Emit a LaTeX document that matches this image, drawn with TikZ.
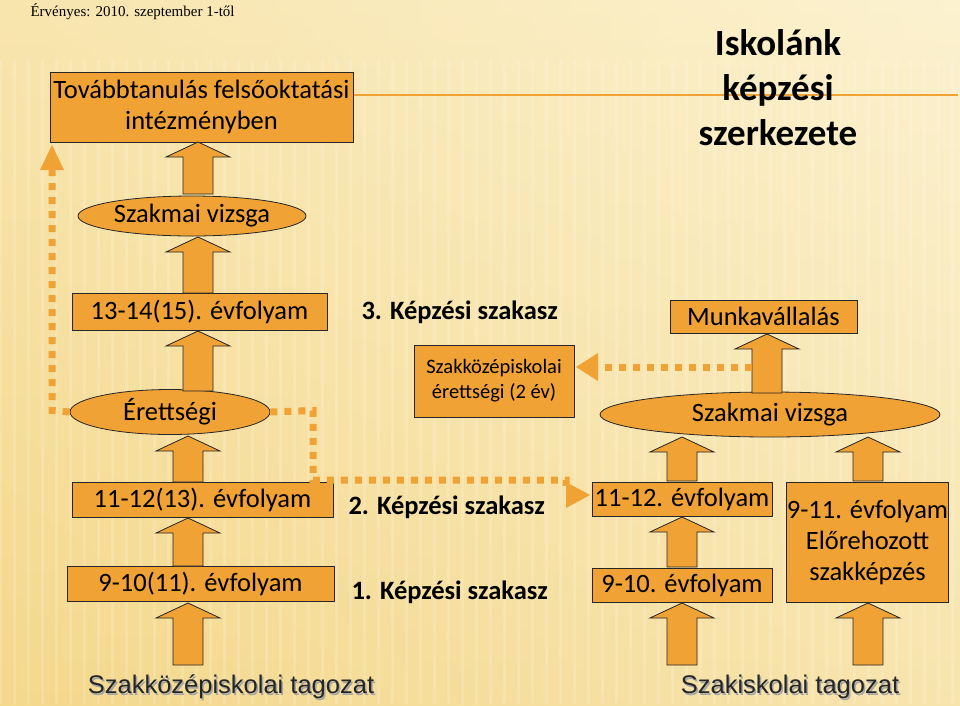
\documentclass[tikz,border=0pt]{standalone}
\usepackage{fontspec}
\setmainfont{Carlito}
\newfontfamily\arialf{Liberation Sans}
\newfontfamily\timesf{Liberation Serif}
\usetikzlibrary{shapes.geometric}
\definecolor{org}{RGB}{240,162,52}
\definecolor{bgA}{RGB}{244,216,140}
\definecolor{bgB}{RGB}{252,242,208}
\tikzset{
  obox/.style={draw=black!85,line width=0.8pt,fill=org,inner sep=0pt,align=center,font=\fontsize{26.5}{31}\selectfont},
  oell/.style={ellipse,draw=black!85,line width=0.8pt,fill=org,inner sep=0pt,font=\fontsize{26.5}{31}\selectfont},
  lbl/.style={font=\bfseries\fontsize{26.5}{31}\selectfont},
  tag/.style={font=\arialf\fontsize{25.5}{30}\selectfont},
  dots/.style={draw=org,line width=7pt,dash pattern=on 7pt off 7pt},
  blk/.style={draw=black!85,line width=0.8pt,fill=org}
}
\newcommand\uparr[3]{\draw[blk] (#1-15,#2)--(#1-15,#3+15)--(#1-32,#3+15)--(#1,#3)--(#1+32,#3+15)--(#1+15,#3+15)--(#1+15,#2)--cycle;}
\begin{document}
\begin{tikzpicture}[x=1pt,y=-1pt]
\useasboundingbox (0,0) rectangle (960,705);
\shade[left color=bgA,right color=bgB] (0,0) rectangle (960,705);
\shade[top color=bgB,bottom color=bgA,opacity=0.5] (0,0) rectangle (960,705);
\foreach \i in {0,14,...,960} \draw[white,opacity=0.15,line width=3pt] (\i,60)--(\i,705);
\node[font=\timesf\fontsize{15}{17}\selectfont,anchor=west] (valid) at (27,12) {Érvényes: 2010. szeptember 1-től};
% header line
\draw[org,line width=1.5pt] (353,95)--(958,95);
\node[align=center,font=\bfseries\fontsize{37}{45}\selectfont] (title) at (778,88) {Iskolánk\\képzési\\szerkezete};
% left column
\node[obox,minimum width=303pt,minimum height=70pt] (top) at (201.5,107) {Továbbtanulás felsőoktatási\\intézményben};
\node[oell,minimum width=228pt,minimum height=40pt] (szv1) at (192,216) {Szakmai vizsga};
\node[obox,minimum width=255pt,minimum height=37pt] (e1315) at (199.5,311.5) {13-14(15). évfolyam};
\node[oell,minimum width=200pt,minimum height=45pt] (eret) at (170,412) {Érettségi};
\node[obox,minimum width=261pt,minimum height=35pt] (e1112l) at (202.5,499.5) {11-12(13). évfolyam};
\node[obox,minimum width=267pt,minimum height=35pt] (e910l) at (200.5,583.5) {9-10(11). évfolyam};
% stage labels
\node[lbl,anchor=west] (s3) at (358,312) {3. Képzési szakasz};
\node[lbl,anchor=west] (s2) at (345,507) {2. Képzési szakasz};
\node[lbl,anchor=west] (s1) at (348,592) {1. Képzési szakasz};
% right part
\node[obox,minimum width=187pt,minimum height=33pt] (munka) at (763.5,316.5) {Munkavállalás};
\node[obox,minimum width=160pt,minimum height=72pt,font=\fontsize{20.5}{25}\selectfont] (szk) at (494,381) {Szakközépiskolai\\érettségi (2 év)};
\node[oell,minimum width=340pt,minimum height=45pt] (szv2) at (770,414.5) {Szakmai vizsga};
\node[obox,minimum width=180pt,minimum height=34pt] (e1112r) at (682,499) {11-12. évfolyam};
\node[obox,minimum width=180pt,minimum height=34pt] (e910r) at (682,585) {9-10. évfolyam};
\node[obox,minimum width=161pt,minimum height=120pt] (e911) at (867.5,542) {9-11. évfolyam\\Előrehozott\\szakképzés};
% bottom labels with shadow
\node[tag,text=black!35] at (232.5,688.5) {Szakközépiskolai tagozat};
\node[tag,text=black!85] (t1) at (231,687) {Szakközépiskolai tagozat};
\node[tag,text=black!35] at (791.5,688.5) {Szakiskolai tagozat};
\node[tag,text=black!85] (t2) at (790,687) {Szakiskolai tagozat};
% block arrows left
\uparr{198}{194}{142}
\uparr{198}{293}{237}
\uparr{198}{391}{331}
\uparr{188}{482}{436}
\uparr{188}{566}{518}
\uparr{188}{665}{603}
% block arrows right
\uparr{767}{393}{334}
\uparr{682}{481}{437}
\uparr{682}{567}{517}
\uparr{682}{665}{603}
\uparr{868}{481}{437}
\uparr{868}{665}{603}
% dotted connectors
\draw[dots] (eret.west) -- (52,410.5) -- (52,170);
\fill[org] (40,170)--(52,145)--(64,170)--cycle;
\draw[dots] (eret.east) -- (313,410.5) -- (313,480) -- (566,480) -- (566,490);
\fill[org] (566,482)--(590,495)--(566,508)--cycle;
\draw[dots] (752,367) -- (600,367);
\fill[org] (598,353)--(576,367)--(598,381)--cycle;
\end{tikzpicture}
\end{document}
